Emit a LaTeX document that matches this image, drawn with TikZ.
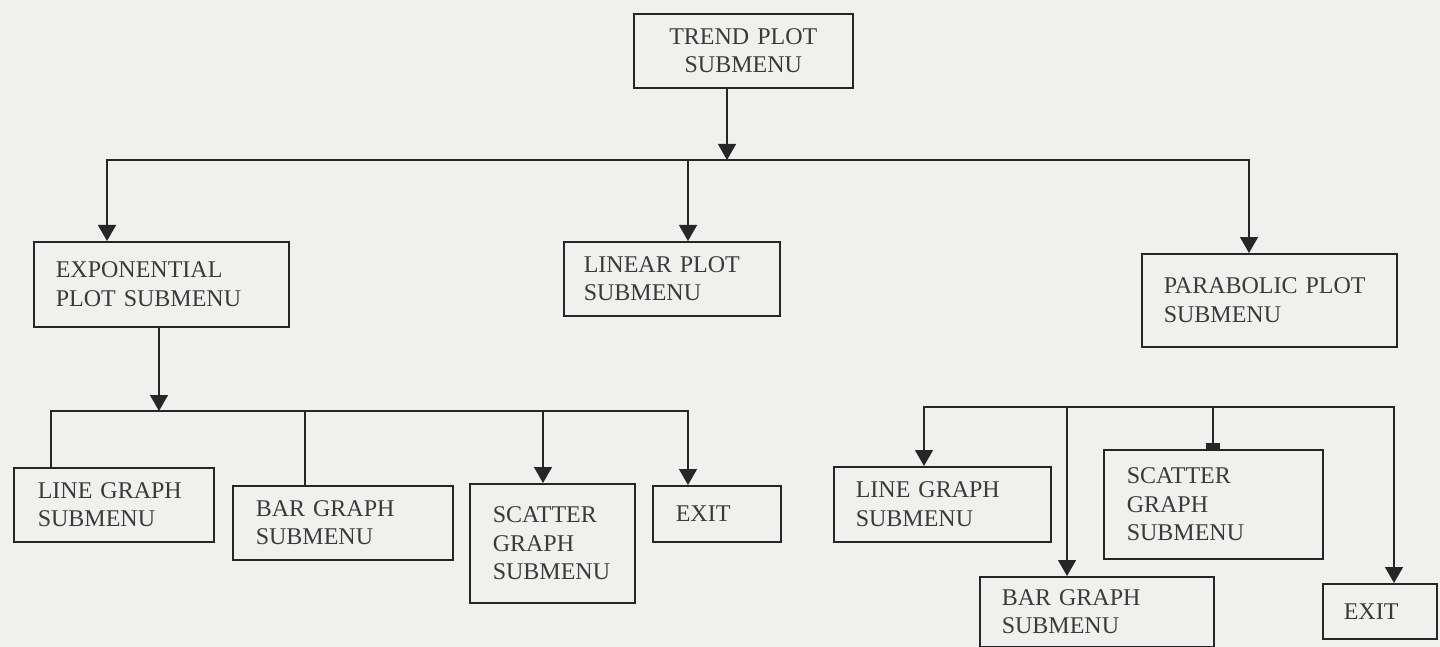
\documentclass[tikz,border=0pt]{standalone}
\usepackage{fontspec}
\setmainfont{Liberation Serif}
\usetikzlibrary{arrows.meta}
\uchyph=0
\hyphenpenalty=10000
\definecolor{bg}{RGB}{240,240,238}
\definecolor{ink}{RGB}{38,38,38}
\definecolor{txt}{RGB}{58,58,58}
\begin{document}
\begin{tikzpicture}[x=1pt,y=-1pt,
  box/.style={draw=ink, line width=1.6pt, text=txt, anchor=north west, align=left,
    inner ysep=0pt, font=\fontsize{24}{28.5}\selectfont},
  conn/.style={draw=ink, line width=1.5pt, line cap=rect},
  arr/.style={conn, -{Triangle[width=18pt,length=16pt]}},
  flat/.style={conn, -{Rectangle[width=14pt,length=6pt]}}]

\path[use as bounding box, fill=bg] (0,0) rectangle (1440,647);

% level 0
\node[box, align=center, text width=175pt, inner xsep=22pt, minimum height=74pt] (top) at (633,13) {TREND PLOT\\SUBMENU};

% level 1
\node[box, text width=211pt, inner xsep=22pt, minimum height=85pt] (exp) at (33,241) {EXPONENTIAL\\PLOT SUBMENU};
\node[box, text width=176pt, inner xsep=20pt, minimum height=74pt] (lin) at (563,241) {LINEAR PLOT\\SUBMENU};
\node[box, text width=211pt, inner xsep=22pt, minimum height=93pt] (par) at (1141,253) {PARABOLIC PLOT\\SUBMENU};

% level 2, left
\node[box, text width=152pt, inner xsep=24pt, minimum height=74pt] (lgL) at (13,467) {LINE GRAPH\\SUBMENU};
\node[box, text width=174pt, inner xsep=23pt, minimum height=74pt] (bgL) at (232,485) {BAR GRAPH\\SUBMENU};
\node[box, text width=119pt, inner xsep=23pt, minimum height=119pt] (sgL) at (469,483) {SCATTER\\GRAPH\\SUBMENU};
\node[box, text width=82pt, inner xsep=23pt, minimum height=56pt] (exL) at (652,485) {EXIT};

% level 2, right
\node[box, text width=173pt, inner xsep=22pt, minimum height=75pt] (lgR) at (833,466) {LINE GRAPH\\SUBMENU};
\node[box, text width=190pt, inner xsep=22pt, minimum height=70pt] (bgR) at (979,576) {BAR GRAPH\\SUBMENU};
\node[box, text width=173pt, inner xsep=23pt, minimum height=109pt] (sgR) at (1103,449) {SCATTER\\GRAPH\\SUBMENU};
\node[box, text width=72pt, inner xsep=21pt, minimum height=55pt] (exR) at (1322,583) {EXIT};

% connectors from the top
\coordinate (t1) at (727,160);
\coordinate (hL) at (107,160);
\coordinate (hM) at (688,160);
\coordinate (hR) at (1249,160);
\draw[arr] (top.south -| t1) -- (t1);
\draw[conn] (hL) -- (hR);
\draw[arr] (hL) -- (hL |- exp.north);
\draw[arr] (hM) -- (hM |- lin.north);
\draw[arr] (hR) -- (hR |- par.north);

% exponential subtree
\coordinate (e1) at (159,411);
\coordinate (eL) at (51,411);
\coordinate (e2) at (305,411);
\coordinate (e3) at (543,411);
\coordinate (eR) at (688,411);
\draw[arr] (exp.south -| e1) -- (e1);
\draw[conn] (eL) -- (eR);
\draw[conn] (eL) -- (eL |- lgL.north);
\draw[conn] (e2) -- (e2 |- bgL.north);
\draw[arr] (e3) -- (e3 |- sgL.north);
\draw[arr] (eR) -- (eR |- exL.north);

% right subtree
\coordinate (rL) at (924,407);
\coordinate (r2) at (1067,407);
\coordinate (r3) at (1213,407);
\coordinate (rR) at (1394,407);
\draw[conn] (rL) -- (rR);
\draw[arr] (rL) -- (rL |- lgR.north);
\draw[arr] (r2) -- (r2 |- bgR.north);
\draw[flat] (r3) -- (r3 |- sgR.north);
\draw[arr] (rR) -- (rR |- exR.north);
\end{tikzpicture}
\end{document}
